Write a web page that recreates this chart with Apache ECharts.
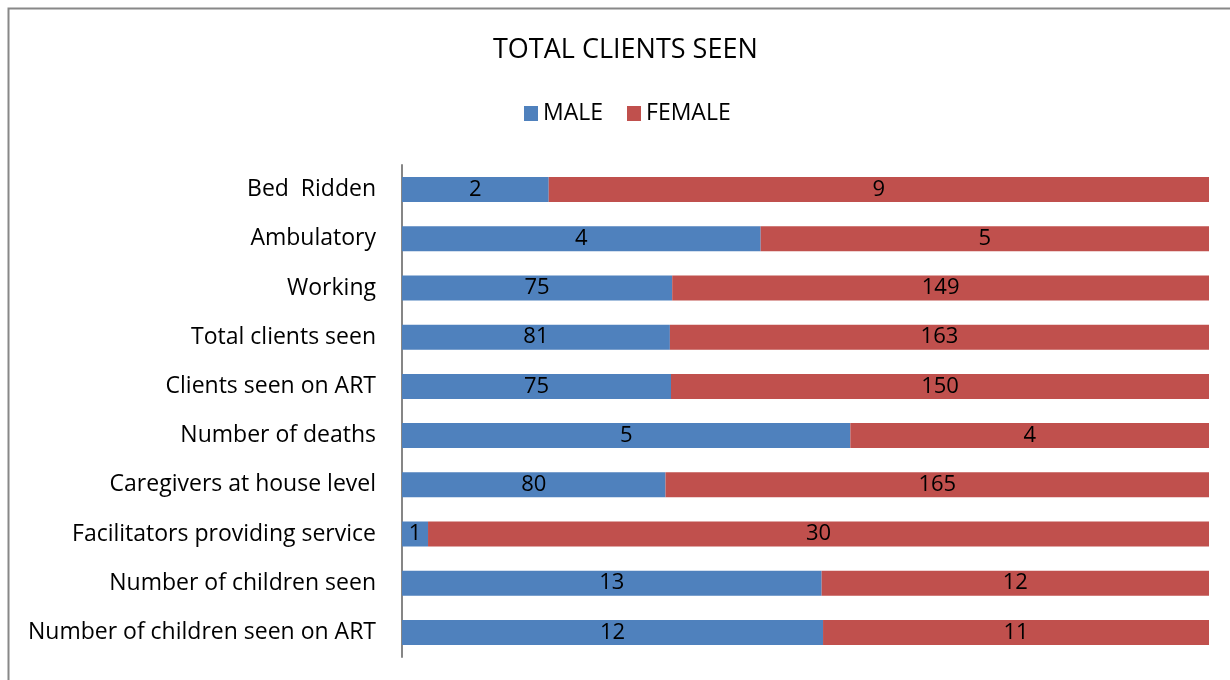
<!DOCTYPE html>
<html>
<head>
<meta charset="utf-8">
<script src="https://cdn.jsdelivr.net/npm/echarts@6/dist/echarts.min.js"></script>
<style>
  body { margin: 0; background: #fff; }
  #main { width: 1230px; height: 680px; }
</style>
</head>
<body>
<div id="main"></div>
<script>
// categories, top to bottom
var categories = ['Bed  Ridden', 'Ambulatory', 'Working', 'Total clients seen', 'Clients seen on ART',
    'Number of deaths', 'Caregivers at house level', 'Facilitators providing service',
    'Number of children seen', 'Number of children seen on ART'];
var male = [2, 4, 75, 81, 75, 5, 80, 1, 13, 12];
var female = [9, 5, 149, 163, 150, 4, 165, 30, 12, 11];

// 100% stacked: share of each row
function share(arr, other) {
    return arr.map(function (v, i) { return v / (v + other[i]) * 100; });
}
var malePct = share(male, female);
var femalePct = share(female, male);

var myChart = echarts.init(document.getElementById('main'));

var fontFam = '"Open Sans", "Noto Sans", sans-serif';

function labelOf(raw) {
    return {
        show: true,
        position: 'inside',
        color: '#000',
        fontSize: 22,
        fontFamily: fontFam,
        padding: [3, 0, 0, 0],
        formatter: function (p) { return raw[p.dataIndex]; }
    };
}

var option = {
    animation: false,
    title: {
        text: 'TOTAL CLIENTS SEEN',
        left: 488,
        top: 32,
        textStyle: { fontSize: 27, fontWeight: 'normal', color: '#000', fontFamily: fontFam }
    },
    legend: {
        data: ['MALE', 'FEMALE'],
        top: 97,
        left: 519,
        itemWidth: 14,
        itemHeight: 15,
        itemGap: 24,
        icon: 'rect',
        textStyle: { fontSize: 23, color: '#000', fontFamily: fontFam }
    },
    grid: { left: 402, right: 21, top: 165, bottom: 23, containLabel: false },
    xAxis: {
        type: 'value',
        min: 0,
        max: 100,
        show: false
    },
    yAxis: {
        type: 'category',
        data: categories,
        inverse: true,
        axisLine: { show: true, lineStyle: { color: '#868686', width: 2 } },
        axisTick: { show: false },
        axisLabel: { fontSize: 23, color: '#000', fontFamily: fontFam, margin: 26, padding: [3, 0, 0, 0] }
    },
    graphic: [{
        type: 'polyline',
        shape: { points: [[8.5, 690], [8.5, 8.5], [1240, 8.5]] },
        style: { stroke: '#888', lineWidth: 2, fill: null }
    }],
    series: [
        {
            name: 'MALE',
            type: 'bar',
            stack: 'total',
            barWidth: 25,
            data: malePct,
            itemStyle: { color: '#4F81BD' },
            label: labelOf(male)
        },
        {
            name: 'FEMALE',
            type: 'bar',
            stack: 'total',
            barWidth: 25,
            data: femalePct,
            itemStyle: { color: '#C0504D' },
            label: labelOf(female)
        }
    ]
};

myChart.setOption(option);
</script>
</body>
</html>
